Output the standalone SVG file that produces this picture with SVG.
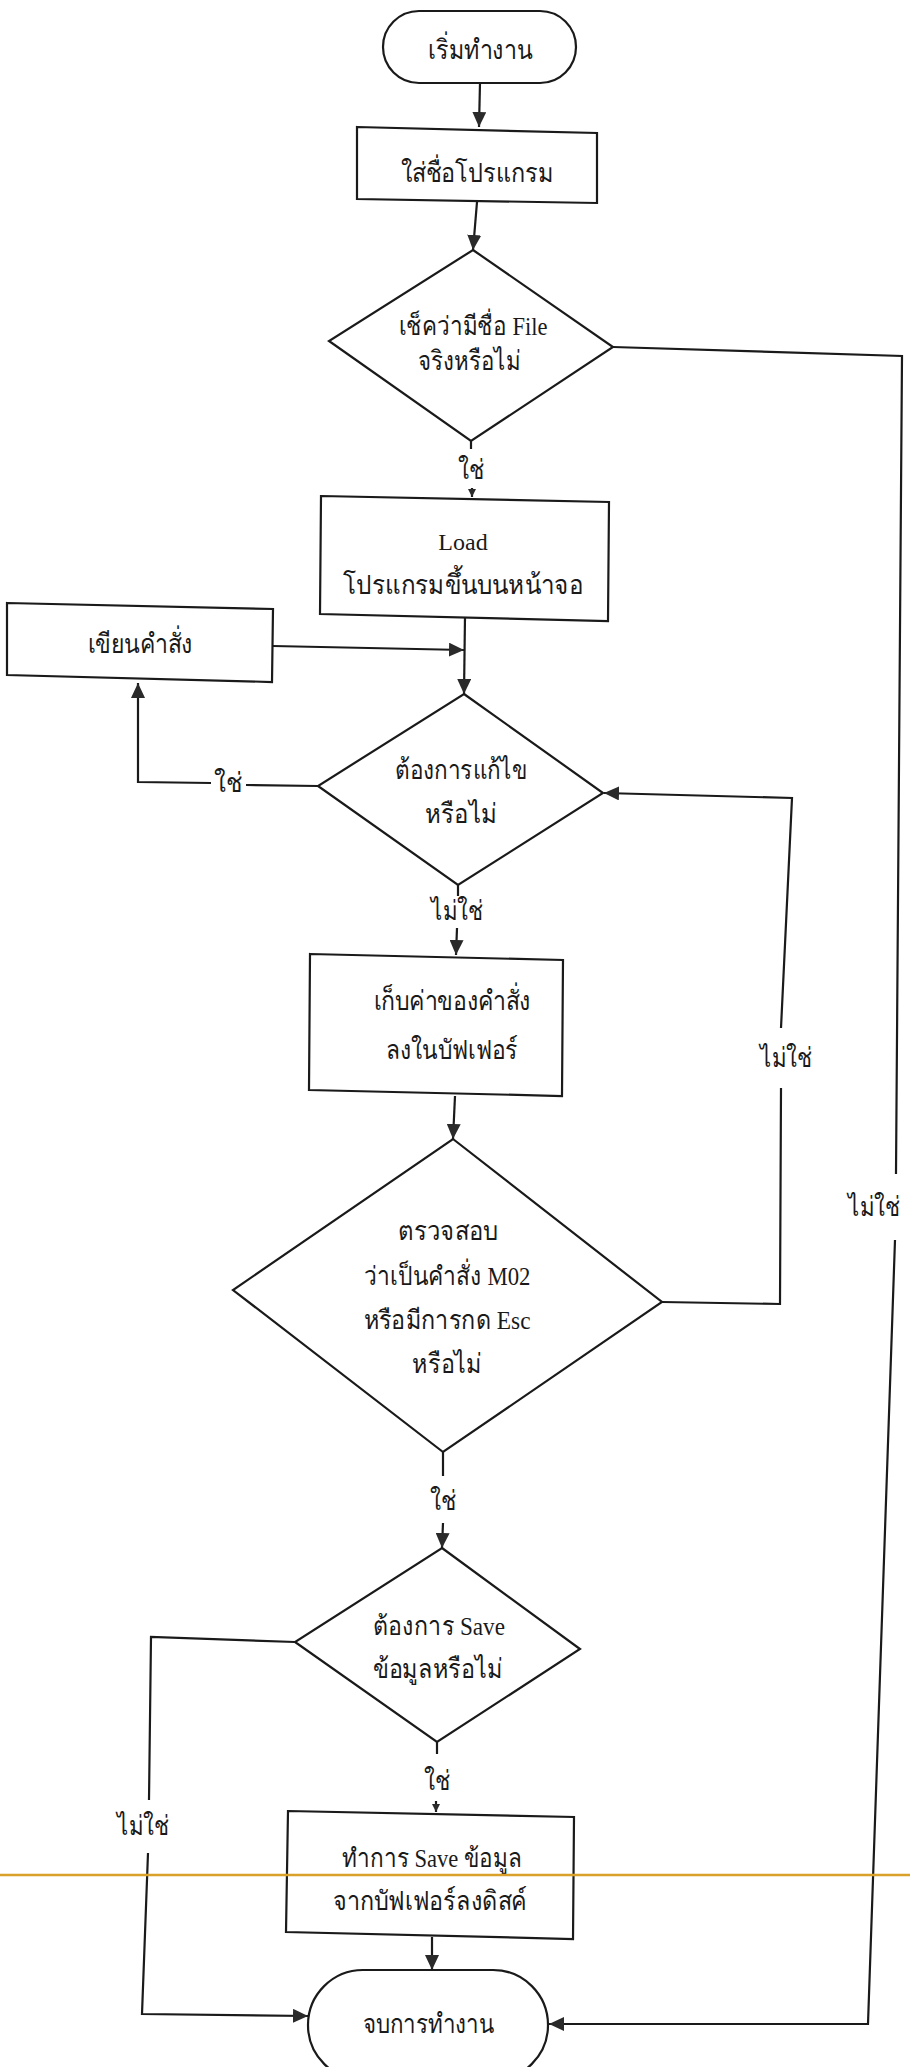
<svg xmlns="http://www.w3.org/2000/svg" width="910" height="2067" viewBox="0 0 910 2067">
  <style>
    .shape { fill: #ffffff; stroke: #1a1a1a; stroke-width: 2.2; stroke-linejoin: miter; }
    .conn { fill: none; stroke: #1a1a1a; stroke-width: 2.2; }
    .lbl { font-family: "Liberation Serif", "DejaVu Serif", serif; font-size: 27px; fill: #1a1a1a; text-anchor: middle; }
    .mix { font-size: 26px; }
    .lat { font-size: 24px; }
    .scanline { stroke: #d9a12a; stroke-width: 2.5; }
  </style>
  <defs>
    <marker id="arrow" markerUnits="userSpaceOnUse" markerWidth="16" markerHeight="14" refX="15" refY="7" orient="auto">
      <path d="M0,0 L15,7 L0,14 Z" fill="#2a2a2a"/>
    </marker>
    <marker id="arrow-small" markerUnits="userSpaceOnUse" markerWidth="9" markerHeight="8" refX="8" refY="4" orient="auto">
      <path d="M0,0 L8,4 L0,8 Z" fill="#2a2a2a"/>
    </marker>
  </defs>

  <rect width="910" height="2067" fill="#ffffff"/>

  <!-- connectors -->
  <g id="connectors">
    <path class="conn" d="M480,83 L479,127" marker-end="url(#arrow)"/>
    <path class="conn" d="M477,202 L473,250" marker-end="url(#arrow)"/>
    <path class="conn" d="M471,441 L471,449"/>
    <path class="conn" d="M472,488 L472,497" marker-end="url(#arrow-small)"/>
    <path class="conn" d="M613,347 L902,356 L896,1174 M895,1240 L868,2024 L549,2024" marker-end="url(#arrow)"/>
    <path class="conn" d="M465,616 L464,694" marker-end="url(#arrow)"/>
    <path class="conn" d="M273,646 L464,650" marker-end="url(#arrow)"/>
    <path class="conn" d="M318,786 L246,785 M211,783 L138,782 L138,683" marker-end="url(#arrow)"/>
    <path class="conn" d="M458,885 L458,896"/>
    <path class="conn" d="M457,928 L456,955" marker-end="url(#arrow)"/>
    <path class="conn" d="M455,1096 L453,1139" marker-end="url(#arrow)"/>
    <path class="conn" d="M662,1302 L780,1304 L781,1088 M781,1028 L792,798 L604,793" marker-end="url(#arrow)"/>
    <path class="conn" d="M443,1452 L443,1476"/>
    <path class="conn" d="M443,1523 L442,1548" marker-end="url(#arrow)"/>
    <path class="conn" d="M295,1642 L151,1637 L149,1800 M148,1853 L142,2014 L308,2016" marker-end="url(#arrow)"/>
    <path class="conn" d="M437,1742 L437,1754"/>
    <path class="conn" d="M436,1801 L436,1812" marker-end="url(#arrow-small)"/>
    <path class="conn" d="M432,1937 L432,1970" marker-end="url(#arrow)"/>
  </g>

  <!-- connector labels -->
  <g id="connector-labels">
    <text class="lbl" x="471" y="479" textLength="26" lengthAdjust="spacingAndGlyphs">ใช่</text>
    <text class="lbl" x="228" y="792" textLength="28" lengthAdjust="spacingAndGlyphs">ใช่</text>
    <text class="lbl" x="457" y="920" textLength="52" lengthAdjust="spacingAndGlyphs">ไม่ใช่</text>
    <text class="lbl" x="786" y="1067" textLength="52" lengthAdjust="spacingAndGlyphs">ไม่ใช่</text>
    <text class="lbl" x="874" y="1216" textLength="52" lengthAdjust="spacingAndGlyphs">ไม่ใช่</text>
    <text class="lbl" x="443" y="1510" textLength="26" lengthAdjust="spacingAndGlyphs">ใช่</text>
    <text class="lbl" x="437" y="1790" textLength="26" lengthAdjust="spacingAndGlyphs">ใช่</text>
    <text class="lbl" x="143" y="1835" textLength="52" lengthAdjust="spacingAndGlyphs">ไม่ใช่</text>
  </g>

  <g id="start">
    <rect class="shape" x="383" y="11" width="193" height="72" rx="36" ry="36"/>
    <text class="lbl" x="480" y="59" textLength="104" lengthAdjust="spacingAndGlyphs">เริ่มทำงาน</text>
  </g>

  <g id="enter-name">
    <polygon class="shape" points="357,127 597,133 597,203 357,199"/>
    <text class="lbl" x="477" y="182" textLength="153" lengthAdjust="spacingAndGlyphs">ใส่ชื่อโปรแกรม</text>
  </g>

  <g id="check-file">
    <polygon class="shape" points="473,250 613,347 471,441 329,341"/>
    <text class="lbl mix" x="473" y="335" textLength="149" lengthAdjust="spacingAndGlyphs">เช็คว่ามีชื่อ File</text>
    <text class="lbl" x="469" y="370" textLength="103" lengthAdjust="spacingAndGlyphs">จริงหรือไม่</text>
  </g>

  <g id="load">
    <polygon class="shape" points="321,496 609,502 608,621 320,614"/>
    <text class="lbl lat" x="463" y="550">Load</text>
    <text class="lbl" x="463" y="594" textLength="240" lengthAdjust="spacingAndGlyphs">โปรแกรมขึ้นบนหน้าจอ</text>
  </g>

  <g id="write-command">
    <polygon class="shape" points="7,603 273,609 272,682 7,675"/>
    <text class="lbl" x="140" y="653" textLength="105" lengthAdjust="spacingAndGlyphs">เขียนคำสั่ง</text>
  </g>

  <g id="edit-decision">
    <polygon class="shape" points="464,694 603,793 458,885 318,786"/>
    <text class="lbl" x="461" y="779" textLength="132" lengthAdjust="spacingAndGlyphs">ต้องการแก้ไข</text>
    <text class="lbl" x="461" y="823" textLength="72" lengthAdjust="spacingAndGlyphs">หรือไม่</text>
  </g>

  <g id="store-buffer">
    <polygon class="shape" points="310,954 563,960 562,1096 309,1090"/>
    <text class="lbl" x="452" y="1010" textLength="157" lengthAdjust="spacingAndGlyphs">เก็บค่าของคำสั่ง</text>
    <text class="lbl" x="452" y="1059" textLength="132" lengthAdjust="spacingAndGlyphs">ลงในบัฟเฟอร์</text>
  </g>

  <g id="check-m02">
    <polygon class="shape" points="453,1139 662,1302 443,1452 233,1290"/>
    <text class="lbl" x="448" y="1240" textLength="100" lengthAdjust="spacingAndGlyphs">ตรวจสอบ</text>
    <text class="lbl mix" x="447" y="1285" textLength="167" lengthAdjust="spacingAndGlyphs">ว่าเป็นคำสั่ง M02</text>
    <text class="lbl mix" x="447" y="1329" textLength="167" lengthAdjust="spacingAndGlyphs">หรือมีการกด Esc</text>
    <text class="lbl" x="447" y="1373" textLength="70" lengthAdjust="spacingAndGlyphs">หรือไม่</text>
  </g>

  <g id="save-decision">
    <polygon class="shape" points="442,1548 580,1649 437,1742 295,1642"/>
    <text class="lbl mix" x="439" y="1635" textLength="132" lengthAdjust="spacingAndGlyphs">ต้องการ Save</text>
    <text class="lbl" x="438" y="1678" textLength="130" lengthAdjust="spacingAndGlyphs">ข้อมูลหรือไม่</text>
  </g>

  <g id="save-disk">
    <polygon class="shape" points="288,1811 574,1817 573,1939 286,1932"/>
    <text class="lbl mix" x="432" y="1867" textLength="180" lengthAdjust="spacingAndGlyphs">ทำการ Save ข้อมูล</text>
    <text class="lbl" x="430" y="1910" textLength="194" lengthAdjust="spacingAndGlyphs">จากบัฟเฟอร์ลงดิสค์</text>
  </g>

  <g id="end">
    <rect class="shape" x="308" y="1970" width="240" height="110" rx="55" ry="55"/>
    <text class="lbl" x="428" y="2033" textLength="131" lengthAdjust="spacingAndGlyphs">จบการทำงาน</text>
  </g>

  <line class="scanline" x1="0" y1="1875" x2="910" y2="1875"/>
</svg>
